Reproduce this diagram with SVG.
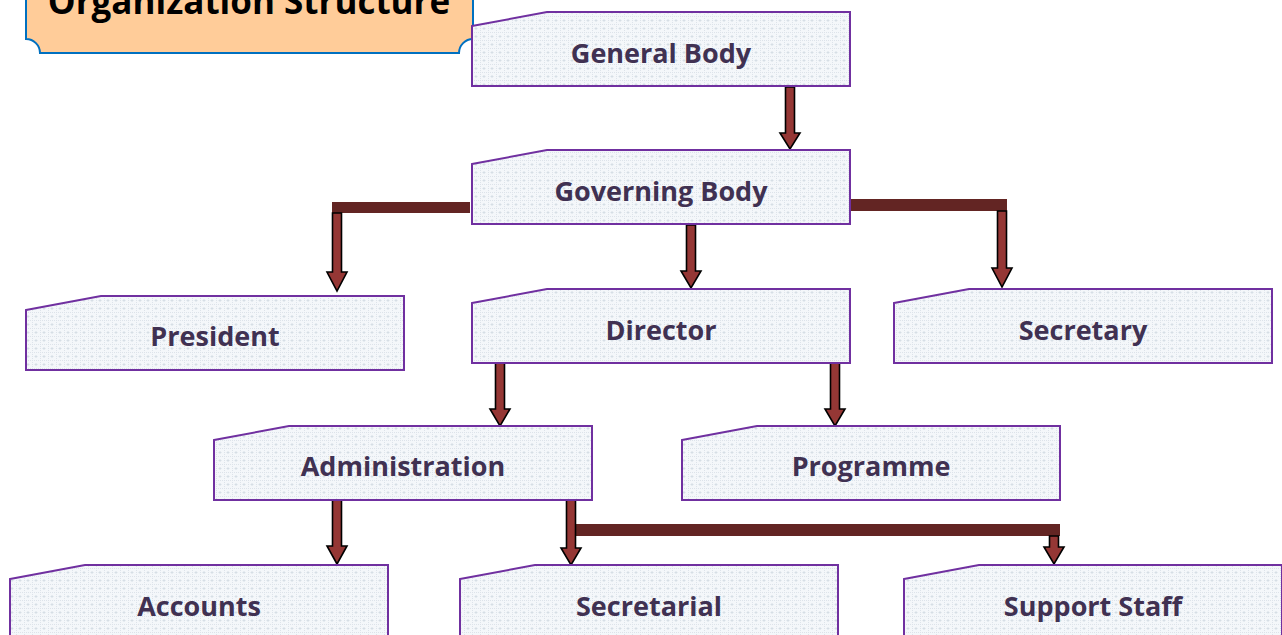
<svg xmlns="http://www.w3.org/2000/svg" width="1282" height="635" viewBox="0 0 1282 635">
<style>
.node{fill:url(#dots);stroke:#7030A0;stroke-width:2}
.lbl{font-family:"Open Sans","Liberation Sans",sans-serif;font-weight:bold;font-size:27px;fill:#403152;text-anchor:middle}
.arr{fill:#953735;stroke:#000;stroke-width:1.6;stroke-linejoin:miter}
.bar{fill:#632523}
</style>
<defs>
<pattern id="dots" width="8" height="8" patternUnits="userSpaceOnUse">
<rect width="8" height="8" fill="#F4F7FA"/>
<path d="M0 0.5H8M0.5 0V8" stroke="#DDE3EA" stroke-width="1" stroke-dasharray="1 1"/>
<path d="M4 3V6M2.5 4.5H5.5" stroke="#D2DAE2" stroke-width="0.8"/>
</pattern>
</defs>
<g id="title">
<path d="M26,-20 H473 V39 A14,14 0 0 0 459,53 H40 A14,14 0 0 0 26,39 Z" fill="#FFCC99" stroke="#0070C0" stroke-width="2"/>
<text x="249" y="14" font-family="'Open Sans','Liberation Sans',sans-serif" font-weight="bold" font-size="35" fill="#000" text-anchor="middle">Organization Structure</text>
</g>
<g id="connectors">
<rect class="bar" x="332" y="202" width="138" height="11"/>
<rect class="bar" x="850" y="199" width="157" height="12"/>
<rect class="bar" x="576" y="524" width="484" height="12"/>
<polygon class="arr" points="785.5,87 794.5,87 794.5,133 800,133 790,149 780,133 785.5,133"/>
<polygon class="arr" points="686.5,225 695.5,225 695.5,271 701,271 691,288 681,271 686.5,271"/>
<polygon class="arr" points="332.5,213 341.5,213 341.5,272 347,272 337,291 327,272 332.5,272"/>
<polygon class="arr" points="997.5,211 1006.5,211 1006.5,268 1012,268 1002,287 992,268 997.5,268"/>
<polygon class="arr" points="495.5,363 504.5,363 504.5,409 510,409 500,426 490,409 495.5,409"/>
<polygon class="arr" points="830.5,363 839.5,363 839.5,409 845,409 835,426 825,409 830.5,409"/>
<polygon class="arr" points="332.5,500 341.5,500 341.5,546 347,546 337,564 327,546 332.5,546"/>
<polygon class="arr" points="566.5,500 575.5,500 575.5,548 581,548 571,565 561,548 566.5,548"/>
<polygon class="arr" points="1049.5,536 1058.5,536 1058.5,547 1064,547 1054,564 1044,547 1049.5,547"/>
</g>
<g id="general-body"><path class="node" d="M472,26 L547,12 H850 V86 H472 Z"/><text class="lbl" x="661" y="63">General Body</text></g>
<g id="governing-body"><path class="node" d="M472,164 L547,150 H850 V224 H472 Z"/><text class="lbl" x="661" y="201">Governing Body</text></g>
<g id="president"><path class="node" d="M26,310 L101,296 H404 V370 H26 Z"/><text class="lbl" x="215" y="346">President</text></g>
<g id="director"><path class="node" d="M472,303 L547,289 H850 V363 H472 Z"/><text class="lbl" x="661" y="340">Director</text></g>
<g id="secretary"><path class="node" d="M894,303 L969,289 H1272 V363 H894 Z"/><text class="lbl" x="1083" y="340">Secretary</text></g>
<g id="administration"><path class="node" d="M214,440 L289,426 H592 V500 H214 Z"/><text class="lbl" x="403" y="476">Administration</text></g>
<g id="programme"><path class="node" d="M682,440 L757,426 H1060 V500 H682 Z"/><text class="lbl" x="871" y="476">Programme</text></g>
<g id="accounts"><path class="node" d="M10,579 L85,565 H388 V645 H10 Z"/><text class="lbl" x="199" y="616">Accounts</text></g>
<g id="secretarial"><path class="node" d="M460,579 L535,565 H838 V645 H460 Z"/><text class="lbl" x="649" y="616">Secretarial</text></g>
<g id="support-staff"><path class="node" d="M904,579 L979,565 H1282 V645 H904 Z"/><text class="lbl" x="1093" y="616">Support Staff</text></g>
</svg>
